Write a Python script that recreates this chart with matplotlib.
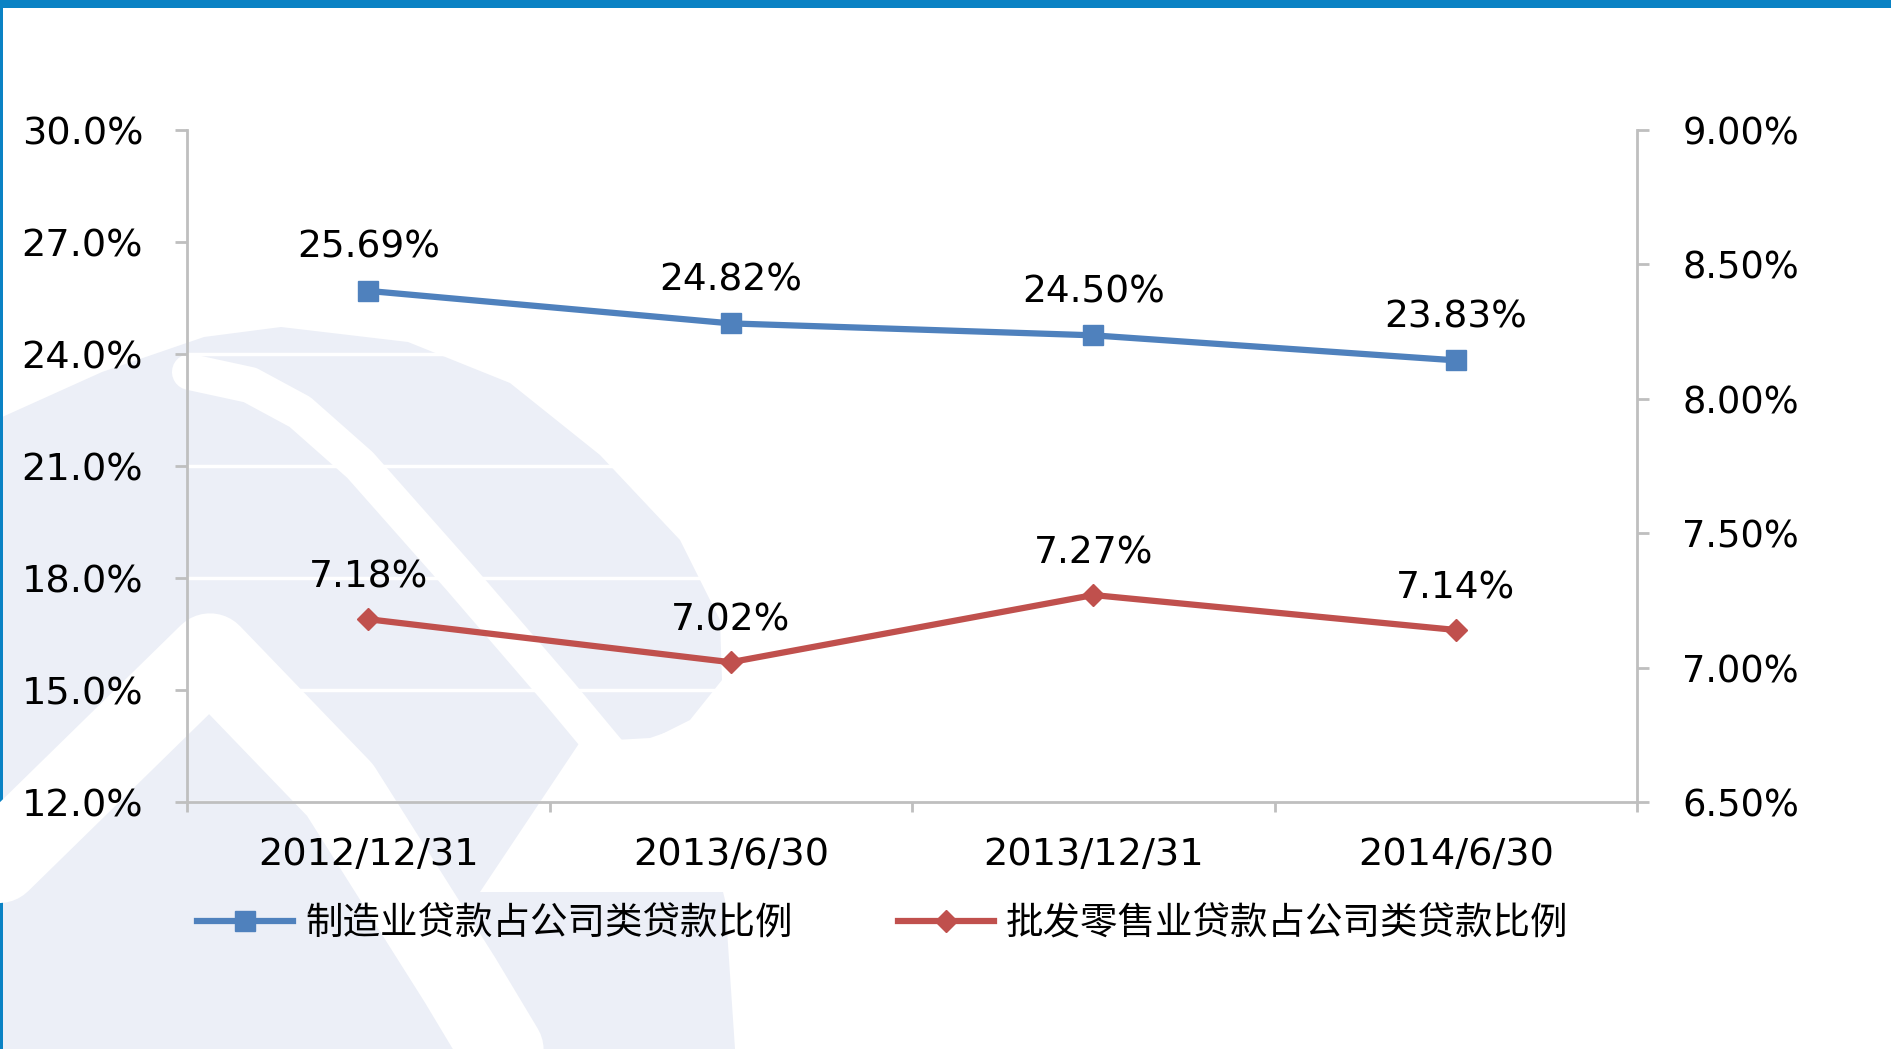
import matplotlib
matplotlib.use("Agg")
import matplotlib.pyplot as plt
from matplotlib.patches import Polygon, Rectangle

# ---------------- data ----------------
dates = ["2012/12/31", "2013/6/30", "2013/12/31", "2014/6/30"]
manuf = [25.69, 24.82, 24.50, 23.83]        # left axis, %
wholesale = [7.18, 7.02, 7.27, 7.14]        # right axis, %
left_ticks = [12.0, 15.0, 18.0, 21.0, 24.0, 27.0, 30.0]
right_ticks = [6.50, 7.00, 7.50, 8.00, 8.50, 9.00]
name_manuf = "制造业贷款占公司类贷款比例"
name_whole = "批发零售业贷款占公司类贷款比例"

BLUE = "#4F81BD"
RED = "#C0504D"
GRID_GRAY = "#BFBFBF"
WM = "#ECEFF7"   # watermark tint
W, H = 1891, 1049

plt.rcParams["font.family"] = ["DejaVu Sans", "Noto Sans CJK SC"]

fig = plt.figure(figsize=(W / 100, H / 100), dpi=100)

# ---------------- background: header bar + faint logo watermark ----------------
bg = fig.add_axes([0, 0, 1, 1], zorder=-5)
bg.set_xlim(0, W); bg.set_ylim(H, 0); bg.axis("off")
hull = [(0, 418), (102, 372), (204, 337), (281, 327), (408, 342),
        (510, 383), (600, 455), (680, 540), (720, 620), (722, 680),
        (690, 720), (650, 740), (700, 800), (725, 900), (735, H), (0, H)]
bg.add_patch(Polygon(hull, closed=True, color=WM, lw=0))
# white cut-outs of the logo
bg.add_patch(Polygon([(580, 742), (650, 738), (760, 700), (760, 892),
                      (480, 892)], closed=True, color="white", lw=0))
bg.plot([190, 250, 300, 360, 460, 560, 615], [372, 385, 412, 465, 578,
        694, 760], color="white", lw=26, solid_capstyle="round",
        solid_joinstyle="round")
bg.plot([-20, 210, 340, 460, 520], [880, 655, 790, 980, 1080],
        color="white", lw=60, solid_capstyle="round",
        solid_joinstyle="round")
bg.add_patch(Rectangle((0, 0), W, 8, color="#0A82C4", lw=0))
bg.add_patch(Rectangle((0, 0), 2.5, H, color="#0A82C4", lw=0))

# ---------------- main axes ----------------
ax = fig.add_axes([187 / W, 1 - 802 / H, (1637 - 187) / W, (802 - 130) / H])
ax.set_facecolor("none")
x = list(range(len(dates)))

ax.plot(x, manuf, color=BLUE, lw=4.5, marker="s", ms=15,
        label=name_manuf, zorder=3)
ax.set_ylim(left_ticks[0], left_ticks[-1])
ax.set_yticks(left_ticks)
ax.set_yticklabels([f"{v:.1f}%" for v in left_ticks])
ax.set_xlim(-0.5, len(dates) - 0.5)
ax.set_xticks(x)
ax.set_xticklabels(dates)
ax.set_xticks([i - 0.5 for i in range(len(dates) + 1)], minor=True)
ax.yaxis.grid(True, color="white", lw=2.5)
ax.set_axisbelow(True)

ax2 = ax.twinx()
ax2.plot(x, wholesale, color=RED, lw=4.5, marker="D", ms=11,
         label=name_whole, zorder=3)
ax2.set_ylim(right_ticks[0], right_ticks[-1])
ax2.set_yticks(right_ticks)
ax2.set_yticklabels([f"{v:.2f}%" for v in right_ticks])

for a in (ax, ax2):
    for s in a.spines.values():
        s.set_visible(False)
ax.spines["left"].set_visible(True)
ax.spines["bottom"].set_visible(True)
ax2.spines["right"].set_visible(True)
for s in (ax.spines["left"], ax.spines["bottom"], ax2.spines["right"]):
    s.set_color(GRID_GRAY); s.set_linewidth(2)

ax.tick_params(axis="y", direction="out", length=8.5, width=2,
               color=GRID_GRAY, labelsize=27.5, pad=23)
ax2.tick_params(axis="y", direction="out", length=8.5, width=2,
                color=GRID_GRAY, labelsize=26.5, pad=24)
ax.tick_params(axis="x", which="major", length=0, labelsize=27.5, pad=25)
ax.tick_params(axis="x", which="minor", direction="out", length=7,
               width=2, color=GRID_GRAY)

# data labels
for xi, v in zip(x, manuf):
    ax.annotate(f"{v:.2f}%", (xi, v), xytext=(0, 31),
                textcoords="offset points", ha="center", va="center",
                fontsize=27)
for xi, v in zip(x, wholesale):
    ax2.annotate(f"{v:.2f}%", (xi, v), xytext=(0, 30),
                 textcoords="offset points", ha="center", va="center",
                 fontsize=27)

# legend
h1, l1 = ax.get_legend_handles_labels()
h2, l2 = ax2.get_legend_handles_labels()
fig.legend(h1 + h2, l1 + l2, loc="center left",
           bbox_to_anchor=(197 / W, 1 - 924 / H), ncol=2, frameon=False,
           borderpad=0, borderaxespad=0, handlelength=2.56,
           handletextpad=0.32, columnspacing=2.8,
           prop={"family": "Noto Sans CJK SC", "size": 27})

fig.savefig("out.png", dpi=100)
